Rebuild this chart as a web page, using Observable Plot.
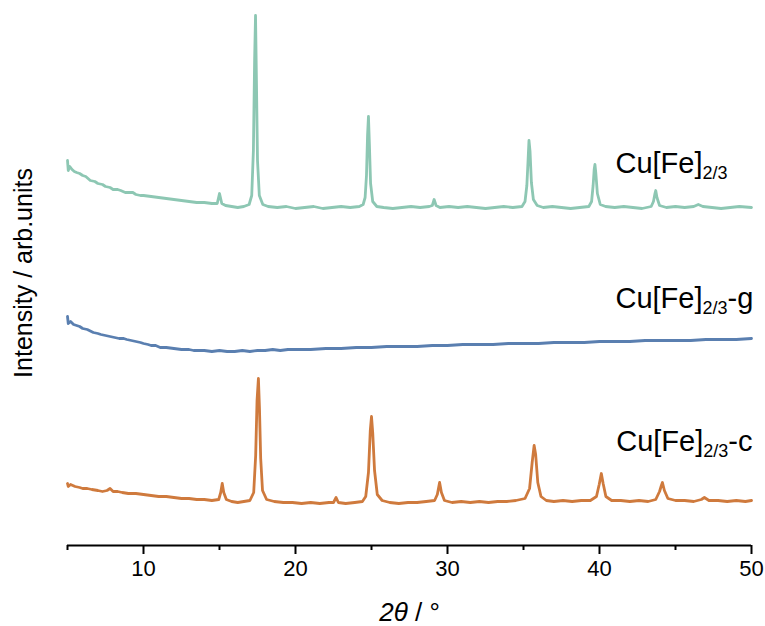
<!DOCTYPE html>
<html><head><meta charset="utf-8">
<script src="https://cdn.jsdelivr.net/npm/d3@7"></script>
<script src="https://cdn.jsdelivr.net/npm/@observablehq/plot@0.6"></script>
<style>body{margin:0;background:#fff}</style>
</head><body><div id="chart"></div>
<script>
// ---- data (2θ in degrees, intensity in arbitrary units) ----
const seriesNames = ["Cu[Fe]2/3", "Cu[Fe]2/3-g", "Cu[Fe]2/3-c"];
const seriesColors = ["#8dc7b3", "#5a7fb0", "#cf7a3d"];
const seriesOffsets = [338, 195, 45];

const tealData = [[5.00,47],[5.05,37],[5.15,41],[5.3,38],[5.45,36],[5.6,35],[5.8,34],[6.0,32],[6.2,31],[6.5,27],[6.8,26],[7.0,24],[7.3,23],[7.5,21],[7.8,20],[8.0,18],[8.3,18],[8.5,17],[8.8,15],[9.0,15],[9.3,15],[9.5,13],[9.8,12],[10.0,12],[10.5,11],[11.0,10],[11.5,9],[12.0,8],[12.5,7],[13.0,6],[13.5,5],[14.0,5],[14.5,4],[14.85,4],[15.0,14],[15.15,4],[15.4,2],[15.8,1],[16.2,0],[16.6,1],[16.95,3],[17.12,12],[17.23,57],[17.31,147],[17.37,192],[17.43,127],[17.5,47],[17.62,12],[17.85,3],[18.2,1],[18.8,0],[19.4,1],[20.0,-1],[20.6,0],[21.2,1],[21.8,-1],[22.4,0],[23.0,1],[23.6,0],[24.2,1],[24.45,3],[24.58,10],[24.67,32],[24.74,72],[24.8,91],[24.86,64],[24.94,24],[25.08,6],[25.35,1],[25.8,0],[26.4,-1],[27.0,0],[27.6,1],[28.2,0],[28.8,1],[29.0,2],[29.12,8],[29.25,2],[29.5,0],[30.1,1],[30.7,0],[31.3,1],[31.9,0],[32.5,-1],[33.1,0],[33.7,1],[34.3,0],[34.9,1],[35.1,6],[35.22,22],[35.3,47],[35.36,67],[35.43,56],[35.52,25],[35.65,8],[35.9,2],[36.3,0],[36.9,1],[37.5,0],[38.1,-1],[38.7,0],[39.3,1],[39.48,6],[39.58,22],[39.65,38],[39.7,43],[39.76,34],[39.86,14],[40.05,3],[40.4,1],[41.0,0],[41.6,1],[42.2,0],[42.8,-1],[43.4,1],[43.55,6],[43.65,14],[43.7,17],[43.78,10],[43.95,2],[44.4,0],[45.0,1],[45.6,0],[46.2,1],[46.5,3],[46.8,1],[47.4,0],[48.0,-1],[48.6,0],[49.2,1],[50.0,0]];

const blueData = [[5.0,34],[5.05,27],[5.2,29],[5.4,26],[5.6,25],[5.8,24],[6.0,22],[6.3,21],[6.7,18],[7.0,17],[7.2,16],[7.5,15],[7.8,14],[8.1,13],[8.4,12],[8.7,12],[8.9,11],[9.2,10],[9.5,9],[9.8,8],[10.0,7],[10.3,6],[10.5,5],[10.8,5],[11.1,3],[11.5,3],[12.0,2],[12.5,1],[13.0,1],[13.3,0],[13.7,0],[14.0,0],[14.5,-1],[15.0,0],[15.5,-1],[16.0,-1],[16.5,0],[17.0,-1],[17.5,0],[18.0,0],[18.5,1],[19.0,0],[19.5,1],[20.0,1],[21.0,1],[22.0,2],[23.0,2],[24.0,3],[25.0,3],[26.0,4],[27.0,4],[28.0,4],[29.0,5],[30.0,5],[31.0,6],[32.0,6],[33.0,6],[34.0,7],[35.0,7],[36.0,7],[37.0,8],[38.0,8],[39.0,8],[40.0,9],[41.0,9],[42.0,9],[43.0,10],[44.0,10],[45.0,10],[46.0,10],[47.0,11],[48.0,11],[49.0,11],[50.0,12]];

const orangeData = [[5.0,17],[5.05,14],[5.2,16],[5.5,14],[5.8,13],[6.0,12],[6.3,12],[6.6,11],[7.0,10],[7.3,9],[7.6,10],[7.8,12],[8.0,9],[8.3,9],[8.6,8],[9.0,7],[9.5,7],[10.0,6],[10.5,5],[11.0,4],[11.5,4],[12.0,3],[12.5,2],[13.0,2],[13.5,1],[14.0,1],[14.5,0],[14.95,1],[15.08,8],[15.18,17],[15.28,8],[15.45,1],[15.8,-1],[16.2,-2],[16.6,-1],[17.0,0],[17.25,8],[17.38,45],[17.47,100],[17.56,122],[17.63,92],[17.71,42],[17.83,10],[18.1,1],[18.6,-1],[19.2,-2],[19.8,-2],[20.4,-3],[21.0,-2],[21.6,-3],[22.2,-2],[22.5,-2],[22.67,3],[22.82,-2],[23.3,-3],[23.9,-2],[24.4,-1],[24.62,4],[24.8,28],[24.92,70],[25.0,84],[25.08,68],[25.2,30],[25.38,6],[25.7,0],[26.2,-2],[26.8,-3],[27.4,-2],[28.0,-2],[28.6,-1],[29.15,0],[29.33,6],[29.48,18],[29.6,8],[29.8,0],[30.3,-2],[30.9,-1],[31.5,-2],[32.1,-1],[32.7,-2],[33.3,-1],[33.9,-1],[34.5,0],[35.1,2],[35.4,12],[35.57,38],[35.7,55],[35.8,46],[35.94,18],[36.15,4],[36.5,0],[37.0,-1],[37.6,0],[38.2,-1],[38.8,0],[39.4,0],[39.8,4],[39.98,16],[40.12,27],[40.24,17],[40.42,4],[40.8,0],[41.4,0],[42.0,-1],[42.6,0],[43.2,-1],[43.7,1],[43.95,9],[44.07,15],[44.14,18],[44.27,10],[44.5,2],[45.0,0],[45.6,0],[46.2,-1],[46.7,1],[46.9,3],[47.2,0],[47.8,0],[48.4,-1],[49.0,0],[49.6,-1],[50.0,0]];

const majorTicks = [10, 20, 30, 40, 50];
const minorTicks = [5, 15, 25, 35, 45];

const labelTheta = [41.05, 41.05, 41.1];
const labelLevel = [373, 238, 95];
const labelMain = ["Cu[Fe]", "Cu[Fe]", "Cu[Fe]"];
const labelSub = ["2/3", "2/3", "2/3"];
const labelSuffix = ["", "-g", "-c"];

const xTitle = ["2θ", " / °"];
const yTitle = "Intensity / arb.units";

// ---- build tables ----
const allData = [tealData, blueData, orangeData];
const rows = allData.flatMap((arr, s) =>
  arr.map(([t, v]) => ({series: seriesNames[s], theta: t, value: v + seriesOffsets[s]})));
const labelRows = labelMain.map((m, i) => ({x: labelTheta[i], y: labelLevel[i], main: m + "#" + i}));

const font = "'Liberation Sans', Arial, sans-serif";

const plot = Plot.plot({
  width: 765,
  height: 626,
  marginLeft: 67,
  marginRight: 14,
  marginTop: 10,
  marginBottom: 81,
  style: {fontFamily: font, fontSize: "22px", color: "#000", background: "#fff"},
  x: {domain: [5, 50]},
  y: {domain: [0, 535], axis: null},
  color: {domain: seriesNames, range: seriesColors},
  marks: [
    Plot.line(rows, {x: "theta", y: "value", z: "series", stroke: "series", strokeWidth: 2.8, strokeLinejoin: "round"}),
    Plot.ruleY([0], {stroke: "#000", strokeWidth: 2}),
    Plot.axisX({ticks: minorTicks, tickSize: 5, tickFormat: () => "", strokeWidth: 2, label: null}),
    Plot.axisX({ticks: majorTicks, tickSize: 9, tickPadding: 6, tickFormat: d => "T" + d, strokeWidth: 2, fontSize: 22, fill: "#000", label: null}),
    Plot.text(labelRows, {x: "x", y: "y", text: "main", textAnchor: "start", lineAnchor: "bottom", fontSize: 29, fill: "#000"}),
    Plot.text(["XTITLE"], {frameAnchor: "bottom", dy: 75, lineAnchor: "bottom", textAnchor: "middle", fontSize: 26, fill: "#000"}),
    Plot.text(["YTITLE"], {frameAnchor: "left", rotate: -90, dx: -36, dy: -5, lineAnchor: "bottom", textAnchor: "middle", fontSize: 25, fill: "#000"})
  ]
});

const svg = d3.select(plot);
svg.selectAll("text").each(function() {
  const t = d3.select(this);
  const s = this.textContent;
  if (s.startsWith("T") && majorTicks.includes(+s.slice(1))) {
    t.text(s.slice(1)).attr("font-size", 22).style("font-size", "22px").attr("fill", "#000");
  } else if (s.startsWith("Cu[Fe]#")) {
    const i = +s.split("#")[1];
    t.text(null);
    t.append("tspan").text(labelMain[i]);
    t.append("tspan").attr("font-size", 18).attr("dy", 6).text(labelSub[i]);
    if (labelSuffix[i]) t.append("tspan").attr("dy", -6).text(labelSuffix[i]);
  } else if (s === "XTITLE") {
    t.text(null);
    t.append("tspan").attr("font-style", "italic").text(xTitle[0]);
    t.append("tspan").text(xTitle[1]);
  } else if (s === "YTITLE") {
    t.text(yTitle);
  }
});
svg.selectAll("g").filter(function() { return this.getAttribute("font-size") === "10"; }).attr("font-size", 22);

document.getElementById("chart").appendChild(plot);
</script>
</body></html>
